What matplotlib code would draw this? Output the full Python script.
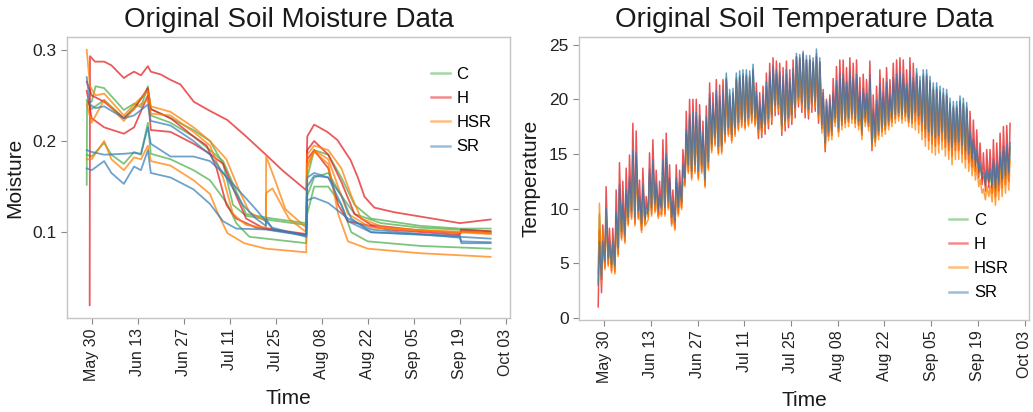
import matplotlib
matplotlib.use("Agg")
import matplotlib.pyplot as plt
import matplotlib.dates as mdates
from matplotlib.lines import Line2D
import datetime as dt

plt.rcParams['font.family'] = ['Liberation Sans', 'DejaVu Sans']

TREATMENTS = ["C", "H", "HSR", "SR"]
COLORS = {"C": "#4daf4a", "H": "#e41a1c", "HSR": "#ff7f00", "SR": "#377eb8"}

# ---------------- Soil moisture: sensor keypoints (days after May 30, value) ----------------
H1_day = [-0.6, -0.5, 1, 3.8, 6, 9.8, 11, 12.9, 15, 17.1, 18, 21, 24, 27, 31.1, 36, 41.3, 47, 53, 58, 65.3, 65.6, 67.7, 71.7, 74.8, 78.8, 81, 83, 86, 92, 102, 112, 121.4]
H1_val = [0.02, 0.293, 0.287, 0.287, 0.283, 0.269, 0.272, 0.276, 0.272, 0.282, 0.276, 0.273, 0.267, 0.262, 0.243, 0.233, 0.223, 0.205, 0.185, 0.168, 0.146, 0.205, 0.218, 0.21, 0.201, 0.179, 0.16, 0.139, 0.127, 0.122, 0.116, 0.110, 0.114]
H2_day = [-1.5, 0, 3.8, 9.8, 12.9, 17.1, 18, 24, 31, 35, 38, 41, 44, 50, 65.3, 65.6, 67.7, 72, 76, 80, 85, 100, 112, 112.5, 121.4]
H2_val = [0.265, 0.25, 0.243, 0.225, 0.235, 0.258, 0.235, 0.225, 0.205, 0.195, 0.17, 0.13, 0.115, 0.105, 0.097, 0.19, 0.2, 0.185, 0.155, 0.12, 0.108, 0.102, 0.099, 0.103, 0.101]
H3_day = [-1.5, 0, 3.8, 9.8, 12.9, 17.1, 18, 24, 31, 36, 40, 44, 47, 52, 65.3, 65.6, 67.7, 72, 75, 78, 90, 112, 112.5, 121.4]
H3_val = [0.255, 0.225, 0.215, 0.208, 0.215, 0.25, 0.212, 0.21, 0.197, 0.186, 0.175, 0.14, 0.115, 0.105, 0.098, 0.18, 0.19, 0.17, 0.13, 0.112, 0.103, 0.097, 0.101, 0.099]
C1_day = [-1.5, -1.4, 0, 1.2, 3.8, 9.8, 12.9, 15, 17.1, 18, 24, 31, 36, 40, 43, 47, 55, 65.3, 65.6, 67.7, 72, 76, 80, 85, 100, 112, 121.4]
C1_val = [0.152, 0.243, 0.243, 0.26, 0.258, 0.234, 0.241, 0.237, 0.26, 0.235, 0.225, 0.212, 0.2, 0.175, 0.13, 0.118, 0.113, 0.108, 0.16, 0.19, 0.185, 0.16, 0.13, 0.115, 0.107, 0.104, 0.104]
C2_day = [-1.5, 0, 3.8, 9.8, 12.9, 17.1, 18, 24, 31, 36, 40, 44, 47, 55, 65.3, 65.6, 67.7, 72, 76, 80, 88, 100, 121.4]
C2_val = [0.245, 0.235, 0.245, 0.225, 0.237, 0.255, 0.228, 0.22, 0.205, 0.19, 0.178, 0.145, 0.12, 0.115, 0.11, 0.14, 0.16, 0.165, 0.14, 0.12, 0.11, 0.105, 0.101]
C3_day = [-1.5, 0, 3.8, 6, 9.8, 12.9, 15, 17.1, 18, 24, 31, 36, 41.3, 44, 48, 53, 65.3, 65.6, 67.7, 72, 76, 79, 84, 100, 121.4]
C3_val = [0.185, 0.183, 0.198, 0.185, 0.175, 0.188, 0.185, 0.22, 0.186, 0.18, 0.168, 0.157, 0.131, 0.11, 0.095, 0.093, 0.088, 0.12, 0.15, 0.15, 0.13, 0.1, 0.09, 0.085, 0.082]
HSR1_day = [-1.5, -0.5, 1.2, 3.8, 9.8, 12.9, 17.1, 18, 24, 31, 36, 41, 45, 48, 53, 53.1, 55, 59, 65.3, 65.6, 67.7, 72, 76, 79, 82, 90, 121.4]
HSR1_val = [0.300, 0.26, 0.25, 0.252, 0.228, 0.24, 0.255, 0.238, 0.232, 0.215, 0.2, 0.18, 0.145, 0.122, 0.112, 0.183, 0.165, 0.125, 0.105, 0.185, 0.195, 0.19, 0.17, 0.14, 0.115, 0.104, 0.098]
HSR2_day = [-1.5, 0, 3.8, 9.8, 12.9, 17.1, 18, 24, 31, 36, 40, 43, 47, 53, 53.1, 55, 60, 65.3, 65.6, 67.7, 72, 75, 78, 85, 121.4]
HSR2_val = [0.24, 0.22, 0.245, 0.222, 0.236, 0.245, 0.23, 0.228, 0.21, 0.195, 0.16, 0.12, 0.108, 0.105, 0.143, 0.148, 0.115, 0.1, 0.17, 0.19, 0.18, 0.15, 0.12, 0.105, 0.099]
HSR3_day = [-1.5, 0, 3.8, 6, 9.8, 12.9, 15, 17.1, 18, 24, 31, 36, 38.5, 41.3, 46.4, 53, 65.3, 65.6, 67.7, 72, 75, 78, 84, 100, 121.4]
HSR3_val = [0.18, 0.18, 0.2, 0.18, 0.168, 0.182, 0.18, 0.195, 0.178, 0.173, 0.157, 0.142, 0.12, 0.099, 0.088, 0.082, 0.078, 0.175, 0.188, 0.175, 0.12, 0.09, 0.082, 0.077, 0.073]
SR1_day = [-1.5, -0.5, 1.2, 3.8, 9.8, 12.9, 17.1, 18, 24, 31, 36, 41, 46, 50, 53, 53.1, 55, 65.3, 65.6, 67.7, 72, 76, 78, 85, 112, 112.5, 121.4]
SR1_val = [0.270, 0.24, 0.236, 0.238, 0.225, 0.228, 0.24, 0.222, 0.217, 0.2, 0.185, 0.16, 0.13, 0.115, 0.107, 0.115, 0.103, 0.097, 0.16, 0.165, 0.16, 0.13, 0.112, 0.1, 0.096, 0.09, 0.089]
SR2_day = [-1.5, 0, 3.8, 9.8, 12.9, 15, 17.1, 18, 24, 31, 36, 40, 45, 50, 53, 55, 65.3, 65.6, 67.7, 72, 76, 79, 85, 112, 121.4]
SR2_val = [0.19, 0.188, 0.185, 0.186, 0.187, 0.186, 0.215, 0.197, 0.183, 0.183, 0.178, 0.165, 0.145, 0.125, 0.112, 0.105, 0.095, 0.15, 0.162, 0.16, 0.14, 0.115, 0.1, 0.095, 0.093]
SR3_day = [-1.5, 0, 3.8, 6, 9.8, 12.9, 15, 17.1, 18, 24, 31, 36, 40, 44, 53, 65.3, 65.6, 67.7, 72, 78, 85, 112, 112.5, 121.4]
SR3_val = [0.17, 0.168, 0.178, 0.165, 0.153, 0.172, 0.168, 0.19, 0.165, 0.16, 0.147, 0.131, 0.112, 0.104, 0.103, 0.096, 0.135, 0.138, 0.132, 0.115, 0.103, 0.094, 0.088, 0.088]

MOISTURE_SENSORS = [
    ("C", C1_day, C1_val), ("C", C2_day, C2_val), ("C", C3_day, C3_val),
    ("H", H1_day, H1_val), ("H", H2_day, H2_val), ("H", H3_day, H3_val),
    ("HSR", HSR1_day, HSR1_val), ("HSR", HSR2_day, HSR2_val), ("HSR", HSR3_day, HSR3_val),
    ("SR", SR1_day, SR1_val), ("SR", SR2_day, SR2_val), ("SR", SR3_day, SR3_val),
]

# ---------------- Soil temperature: daily min / max from May 28 to Sep 28 ----------------
C_max = [9.5, 6.8, 9.6, 6.6, 6.6, 9.3, 11.8, 10.1, 11.3, 12.5,
         14.9, 14.7, 10.7, 11.8, 9.7, 13.2, 14.1, 11.9, 10.9, 14.1,
         14.6, 12.4, 10.3, 12.4, 12.0, 13.6, 16.8, 18.2, 18.4, 18.4,
         18.1, 16.6, 18.0, 20.1, 19.2, 20.4, 19.9, 20.4, 22.0, 20.5,
         20.6, 22.0, 22.2, 22.3, 22.3, 22.2, 22.8, 20.3, 19.4, 20.0,
         21.2, 22.1, 22.6, 22.3, 22.1, 21.7, 22.3, 21.5, 22.4, 23.8,
         23.7, 24.0, 23.6, 23.6, 23.4, 24.2, 23.4, 20.2, 19.4, 19.6,
         20.2, 21.3, 21.9, 21.9, 21.2, 22.1, 21.6, 21.9, 20.3, 20.6,
         20.1, 21.8, 18.7, 19.5, 21.0, 20.2, 21.2, 20.1, 21.6, 21.9,
         22.1, 21.9, 21.0, 22.1, 21.6, 22.4, 21.7, 22.3, 22.3, 21.7,
         21.1, 21.1, 20.8, 20.6, 20.5, 19.7, 19.4, 19.4, 19.9, 19.7,
         19.3, 16.7, 15.9, 15.0, 13.8, 12.9, 13.2, 13.2, 14.1, 13.8,
         14.7, 15.3, 15.4, 15.6]
C_min = [4.0, 4.5, 4.9, 5.2, 4.6, 4.5, 6.1, 7.6, 7.3, 8.9,
         9.5, 8.9, 9.5, 8.3, 8.9, 9.5, 9.8, 10.1, 9.6, 9.8,
         9.8, 10.4, 8.9, 8.5, 9.8, 10.4, 12.5, 13.7, 13.1, 13.7,
         13.1, 13.7, 12.4, 14.0, 15.6, 16.2, 15.4, 15.5, 16.5, 17.1,
         16.5, 17.1, 17.6, 17.9, 17.7, 18.0, 18.3, 18.0, 17.0, 17.1,
         17.4, 17.9, 18.3, 19.1, 19.2, 17.3, 17.7, 18.0, 18.3, 18.9,
         19.9, 19.4, 18.9, 18.8, 19.4, 19.5, 18.4, 17.4, 15.7, 16.7,
         16.8, 18.0, 17.1, 17.7, 17.9, 18.0, 18.3, 17.9, 17.7, 16.8,
         18.0, 17.6, 15.7, 16.2, 16.8, 17.1, 17.3, 17.7, 18.0, 18.3,
         18.5, 18.3, 18.5, 18.0, 17.9, 18.5, 18.2, 17.6, 17.0, 16.7,
         16.4, 16.2, 16.4, 16.7, 16.1, 15.8, 15.3, 15.8, 15.8, 15.5,
         15.0, 14.7, 14.3, 13.9, 13.3, 12.7, 12.1, 12.4, 11.9, 11.6,
         12.1, 12.4, 12.7, 13.0]
H_max = [8.0, 8.5, 12.0, 8.2, 8.2, 11.7, 14.2, 12.5, 13.7, 14.9,
         17.8, 17.1, 12.6, 13.7, 11.1, 15.1, 16.3, 13.5, 12.5, 16.3,
         16.9, 14.0, 11.7, 14.0, 13.5, 15.4, 18.9, 20.0, 20.0, 20.0,
         19.5, 18.0, 19.4, 21.5, 20.6, 21.8, 21.3, 21.8, 21.8, 20.3,
         20.4, 21.8, 22.0, 22.1, 22.1, 22.0, 22.6, 21.5, 20.6, 21.2,
         22.4, 23.3, 23.8, 23.5, 23.3, 22.9, 23.5, 22.7, 23.6, 23.9,
         23.8, 24.2, 23.6, 23.6, 23.4, 23.9, 23.4, 20.9, 20.0, 20.4,
         21.9, 23.0, 23.6, 23.6, 22.9, 23.8, 23.3, 23.6, 22.0, 22.3,
         21.8, 23.5, 20.4, 21.2, 22.7, 21.9, 22.9, 21.8, 23.3, 23.6,
         23.8, 23.6, 22.7, 23.8, 23.3, 22.2, 21.5, 22.1, 22.1, 21.5,
         20.9, 20.9, 20.6, 20.4, 20.3, 19.5, 19.2, 19.2, 19.7, 19.5,
         19.1, 18.9, 18.1, 17.2, 16.0, 15.1, 15.4, 15.4, 16.3, 16.0,
         16.9, 17.5, 17.6, 17.8]
H_min = [1.0, 2.3, 4.6, 4.9, 4.3, 4.2, 5.8, 7.3, 7.0, 8.6,
         9.2, 8.6, 9.2, 8.0, 8.6, 9.2, 9.5, 9.8, 9.3, 9.5,
         9.5, 10.1, 8.6, 8.2, 9.5, 10.1, 12.2, 13.4, 12.8, 13.4,
         12.8, 13.4, 12.1, 13.7, 15.3, 15.9, 15.1, 15.2, 16.2, 16.8,
         16.2, 16.8, 17.3, 17.6, 17.4, 17.7, 18.0, 17.7,
         16.4, 16.5, 16.8, 17.3, 17.7, 18.5, 18.6, 16.7, 17.1, 17.4,
         17.7, 18.3, 19.3, 18.8, 18.3, 18.2, 18.8, 18.9, 17.8,
         17.3, 15.2, 16.6, 16.7, 17.9, 17.0, 17.6, 17.8, 17.9, 18.2,
         17.8, 17.6, 16.7, 17.9, 17.5, 15.3, 16.1, 16.7, 17.0, 17.2,
         17.6, 17.9, 18.2, 18.4, 18.2, 18.4, 17.9, 17.8,
         18.0, 17.7, 17.1, 16.5, 16.2, 15.9, 15.7, 15.9, 16.2, 15.6,
         15.3, 14.8, 15.3, 15.3, 15.0, 14.5, 14.2, 13.8, 13.4, 12.8,
         12.2, 11.6, 11.9, 11.4, 11.1, 11.6, 11.9, 12.2, 12.5]
HSR_max = [10.5, 8.0, 9.5, 7.0, 6.5, 8.5, 10.7, 9.0, 10.2, 11.4,
           13.8, 13.6, 9.6, 10.7, 8.6, 12.1, 13.0, 10.8, 9.8, 13.0,
           13.5, 11.3, 9.2, 11.3, 10.9, 12.5, 15.7, 17.1, 17.3, 17.3,
           17.0, 15.5, 16.9, 19.0, 18.1, 19.3, 18.8, 19.3, 20.9, 19.4,
           19.5, 20.9, 21.1, 21.2, 21.2, 21.1, 21.7, 19.2, 18.3, 18.9,
           20.1, 21.0, 21.5, 21.2, 21.0, 20.6, 21.2, 20.4, 21.3, 22.7,
           22.6, 22.9, 22.5, 22.5, 22.3, 23.1, 22.3, 19.1, 18.3, 18.5,
           19.1, 20.2, 20.8, 20.8, 20.1, 21.0, 20.5, 20.8, 19.2, 19.5,
           19.0, 20.7, 17.6, 18.4, 19.9, 19.1, 20.1, 19.0, 20.5, 20.8,
           21.0, 20.8, 19.9, 21.0, 20.5, 21.3, 20.6, 21.2, 21.2, 20.6,
           20.0, 20.0, 19.7, 19.5, 19.4, 18.6, 18.3, 18.3, 18.8, 18.6,
           18.2, 15.6, 14.8, 13.9, 12.7, 11.8, 12.1, 12.1, 13.0, 12.7,
           13.6, 14.2, 14.3, 14.5]
HSR_min = [3.3, 3.0, 4.4, 4.7, 4.1, 4.0, 5.6, 7.1, 6.8, 8.4,
           9.0, 8.4, 9.0, 7.8, 8.4, 9.0, 9.3, 9.6, 9.1, 9.3,
           9.3, 9.9, 8.4, 8.0, 9.3, 9.9, 12.0, 13.2, 12.6, 13.2,
           12.6, 13.2, 11.9, 13.5, 15.1, 15.7, 14.9, 15.0, 16.0, 16.6,
           16.0, 16.6, 17.1, 17.4, 17.2, 17.5, 17.8, 17.5,
           16.8, 16.9, 17.2, 17.7, 18.1, 18.9, 19.0, 17.1, 17.5, 17.8,
           18.1, 18.7, 19.7, 19.2, 18.7, 18.6, 19.2, 19.3, 18.2,
           16.9, 15.4, 16.2, 16.3, 17.5, 16.6, 17.2, 17.4, 17.5, 17.8, 17.4, 17.2, 16.3,
           17.5, 17.1, 15.4, 15.7, 16.3, 16.6, 16.8, 17.2, 17.5, 17.8,
           18.0, 17.8, 18.0, 17.5, 17.4, 17.2, 16.9, 16.3, 15.7, 15.4,
           15.1, 14.9, 15.1, 15.4, 14.8, 14.5, 14.0, 14.5, 14.5, 14.2,
           13.7, 13.4, 13.0, 12.6, 12.0, 11.4, 10.8, 11.1, 10.6, 10.3,
           10.8, 11.1, 11.4, 11.7]
SR_max = [7.0, 7.0, 10.0, 7.0, 7.0, 9.7, 12.2, 10.5, 11.7, 12.9,
          15.3, 15.1, 11.1, 12.2, 10.1, 13.6, 14.5, 12.3, 11.3, 14.5,
          15.0, 12.8, 10.7, 12.8, 12.4, 14.0, 17.2, 18.6, 18.8, 18.8,
          18.5, 17.0, 18.4, 20.5, 19.6, 20.8, 20.3, 20.8, 22.4, 20.9,
          21.0, 22.4, 22.6, 22.7, 22.7, 22.6, 23.2, 20.7, 19.8, 20.4,
          21.6, 22.5, 23.0, 22.7, 22.5, 22.1, 22.7, 21.9, 22.8, 24.2,
          24.1, 24.4, 24.0, 24.0, 23.8, 24.6, 23.8, 20.6, 19.8, 20.0,
          20.6, 21.7, 22.3, 22.3, 21.6, 22.5, 22.0, 22.3, 20.7, 21.0,
          20.5, 22.2, 19.1, 19.9, 21.4, 20.6, 21.6, 20.5, 22.0, 22.3,
          22.5, 22.3, 21.4, 22.5, 22.0, 22.8, 22.1, 22.7, 22.7, 22.1,
          21.5, 21.5, 21.2, 21.0, 20.9, 20.1, 19.8, 19.8, 20.3, 20.1,
          19.7, 17.1, 16.3, 15.4, 14.2, 13.3, 13.6, 13.6, 14.5, 14.2,
          15.1, 15.7, 15.8, 16.0]
SR_min = [3.0, 3.5, 5.2, 5.5, 4.9, 4.8, 6.4, 7.9, 7.6, 9.2,
          9.8, 9.2, 9.8, 8.6, 9.2, 9.8, 10.1, 10.4, 9.9, 10.1,
          10.1, 10.7, 9.2, 8.8, 10.1, 10.7, 12.8, 14.0, 13.4, 14.0,
          13.4, 14.0, 12.7, 14.3, 15.9, 16.5, 15.7, 15.8, 16.8, 17.4,
          16.8, 17.4, 17.9, 18.2, 18.0, 18.3, 18.6, 18.3, 17.3, 17.4,
          17.7, 18.2, 18.6, 19.4, 19.5, 17.6, 18.0, 18.3, 18.6, 19.2,
          20.2, 19.7, 19.2, 19.1, 19.7, 19.8, 18.7, 17.7, 16.0, 17.0,
          17.1, 18.3, 17.4, 18.0, 18.2, 18.3, 18.6, 18.2, 18.0, 17.1,
          18.3, 17.9, 16.0, 16.5, 17.1, 17.4, 17.6, 18.0, 18.3, 18.6,
          18.8, 18.6, 18.8, 18.3, 18.2,
          18.8, 18.5, 17.9, 17.3, 17.0,
          16.7, 16.5, 16.7, 17.0, 16.4, 16.1, 15.6, 16.1, 16.1, 15.8,
          15.3, 15.0, 14.6, 14.2, 13.6, 13.0, 12.4, 12.7, 12.2, 11.9,
          12.4, 12.7, 13.0, 13.3]

TEMP = {"C": (C_min, C_max), "H": (H_min, H_max), "HSR": (HSR_min, HSR_max), "SR": (SR_min, SR_max)}

BASE_MOIST = dt.datetime(2016, 5, 30)
BASE_TEMP = dt.datetime(2016, 5, 28)
TICK_DATES = [dt.datetime(2016, 5, 30) + dt.timedelta(days=14 * k) for k in range(10)]

FRAME = "#c4c4c4"
TXT = "#1a1a1a"


def style_axes(ax):
    for s in ax.spines.values():
        s.set_color(FRAME)
        s.set_linewidth(1.0)
    ax.tick_params(axis="both", colors="#888888", length=4, width=0.8,
                   labelcolor="#222222")
    ax.tick_params(axis="x", labelsize=11.5)
    ax.tick_params(axis="y", labelsize=12.5)
    ax.set_xticks([mdates.date2num(d) for d in TICK_DATES])
    ax.xaxis.set_major_formatter(mdates.DateFormatter("%b %d"))
    for lab in ax.get_xticklabels():
        lab.set_rotation(90)
    ax.set_xlim(mdates.date2num(dt.datetime(2016, 5, 22, 12)),
                mdates.date2num(dt.datetime(2016, 10, 4, 7)))
    ax.set_xlabel("Time", fontsize=15, color=TXT, labelpad=6)


fig = plt.figure(figsize=(10.33, 4.12), dpi=100)
ax1 = fig.add_axes([67 / 1033, 1 - 318 / 412, 443 / 1033, 281 / 412])
ax2 = fig.add_axes([579 / 1033, 1 - 320 / 412, 450 / 1033, 283 / 412])

# moisture
for trt, days, vals in MOISTURE_SENSORS:
    xs = [mdates.date2num(BASE_MOIST + dt.timedelta(days=d)) for d in days]
    ax1.plot(xs, vals, color=COLORS[trt], alpha=0.72, lw=1.3)
ax1.set_ylim(0.006, 0.314)
ax1.set_yticks([0.1, 0.2, 0.3])
ax1.set_yticklabels(["0.1", "0.2", "0.3"])
ax1.set_ylabel("Moisture", fontsize=15, color=TXT, labelpad=6)
ax1.set_title("Original Soil Moisture Data", fontsize=20, color=TXT, pad=7)
style_axes(ax1)

# temperature
for trt in TREATMENTS:
    tmin, tmax = TEMP[trt]
    xs, ys = [], []
    for d, (lo, hi) in enumerate(zip(tmin, tmax)):
        xs.append(mdates.date2num(BASE_TEMP + dt.timedelta(days=d + 0.25)))
        ys.append(lo)
        xs.append(mdates.date2num(BASE_TEMP + dt.timedelta(days=d + 0.625)))
        ys.append(hi)
    ax2.plot(xs, ys, color=COLORS[trt], alpha=0.75, lw=1.1)
ax2.set_ylim(-0.2, 25.7)
ax2.set_yticks([0, 5, 10, 15, 20, 25])
ax2.set_ylabel("Temperature", fontsize=15, color=TXT, labelpad=6)
ax2.set_title("Original Soil Temperature Data", fontsize=20, color=TXT, pad=7)
style_axes(ax2)

handles = [Line2D([0], [0], color=COLORS[t], alpha=0.5, lw=1.8) for t in TREATMENTS]
leg_kw = dict(frameon=False, fontsize=12, handlelength=1.1, handletextpad=0.4,
              labelspacing=0.55, borderaxespad=0.3)
ax1.legend(handles, TREATMENTS, loc="upper right", bbox_to_anchor=(0.984, 0.935), **leg_kw)
ax2.legend(handles, TREATMENTS, loc="lower right", bbox_to_anchor=(0.981, 0.028), **leg_kw)

fig.savefig("out.png", dpi=100)
